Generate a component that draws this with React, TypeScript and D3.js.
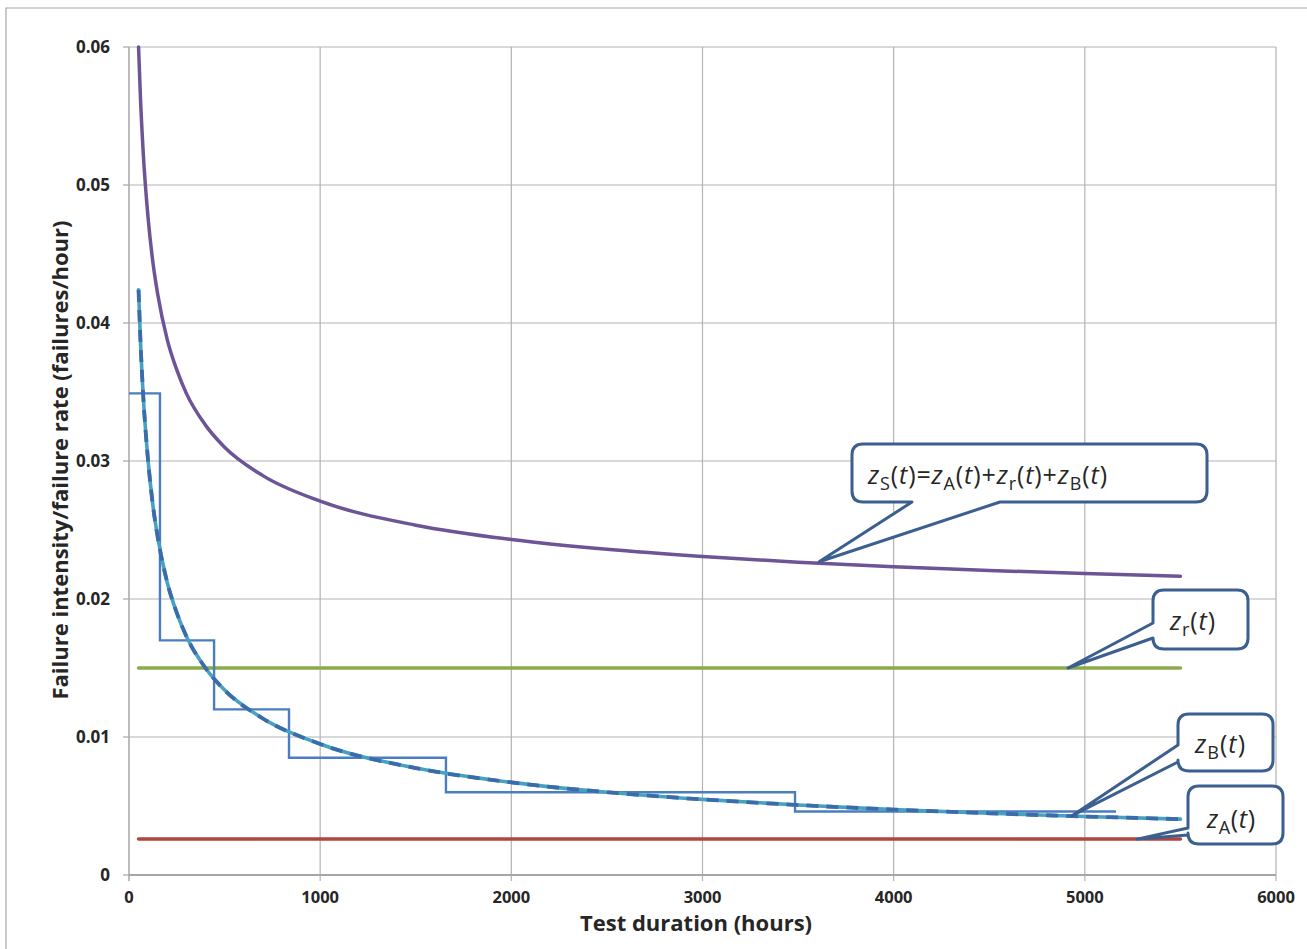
import React from "react";
import * as d3 from "d3";

// Test duration samples (hours) for the smooth curves
const hours = [50, 60, 75, 100, 125, 150, 200, 250, 300, 400, 500, 700, 1000, 1500, 2000, 2500, 3000, 3500, 4000, 4500, 5000, 5500];
// Failure intensity of B-mode failures
const zB = [0.0424, 0.0387, 0.0346, 0.03, 0.0268, 0.0245, 0.0212, 0.019, 0.0173, 0.015, 0.0134, 0.01134, 0.00949, 0.00775, 0.00671, 0.006, 0.00548, 0.00507, 0.00474, 0.00447, 0.00424, 0.00405];
// System failure intensity zS = zA + zr + zB
const zS = [0.06, 0.0563, 0.0522, 0.0476, 0.0444, 0.0421, 0.0388, 0.0366, 0.0349, 0.0326, 0.031, 0.02894, 0.02709, 0.02535, 0.02431, 0.0236, 0.02308, 0.02267, 0.02234, 0.02207, 0.02184, 0.02165];
// Constant rates
const zAValue = 0.0026;
const zrValue = 0.015;
const constStart = 50;
const constEnd = 5500;
// Observed (grouped) failure rate estimate: interval boundaries and levels
const stepTimes = [0, 162, 445, 837, 1658, 3484, 5163];
const stepLevels = [0.0349, 0.017, 0.012, 0.0085, 0.006, 0.0046];

const xTicks = [0, 1000, 2000, 3000, 4000, 5000, 6000];
const yTicks = [0, 0.01, 0.02, 0.03, 0.04, 0.05, 0.06];

const W = 1307;
const H = 949;
const x = d3.scaleLinear().domain([0, 6000]).range([129, 1276]);
const y = d3.scaleLinear().domain([0, 0.06]).range([875, 47]);

const FONT = "'Open Sans', 'Noto Sans', 'DejaVu Sans', sans-serif";

type Side = "bottom" | "left";
function calloutPath(
  x0: number, y0: number, x1: number, y1: number, r: number,
  side: Side, b0: number, b1: number, tx: number, ty: number
) {
  let p = `M${x0 + r},${y0} H${x1 - r} Q${x1},${y0} ${x1},${y0 + r} V${y1 - r} Q${x1},${y1} ${x1 - r},${y1}`;
  if (side === "bottom") p += ` H${b1} L${tx},${ty} L${b0},${y1}`;
  p += ` H${x0 + r} Q${x0},${y1} ${x0},${y1 - r}`;
  if (side === "left") p += ` V${b1} L${tx},${ty} L${x0},${b0}`;
  p += ` V${y0 + r} Q${x0},${y0} ${x0 + r},${y0} Z`;
  return p;
}

function Z({ sub }: { sub: string }) {
  return (
    <>
      <tspan fontStyle="italic">z</tspan>
      <tspan fontSize="18" dy="6">{sub}</tspan>
      <tspan dy="-6">(</tspan>
      <tspan fontStyle="italic">t</tspan>
      <tspan>)</tspan>
    </>
  );
}

export default function App() {
  const curve = d3.line<[number, number]>().x((d) => x(d[0])).y((d) => y(d[1])).curve(d3.curveMonotoneX);
  const zBPath = curve(hours.map((h, i) => [h, zB[i]]))!;
  const zSPath = curve(hours.map((h, i) => [h, zS[i]]))!;

  let stepPath = `M${x(stepTimes[0])},${y(stepLevels[0])}`;
  stepLevels.forEach((lv, i) => {
    stepPath += ` H${x(stepTimes[i + 1])}`;
    if (i + 1 < stepLevels.length) stepPath += ` V${y(stepLevels[i + 1])}`;
  });

  // Callout tips sit on the curves they name
  const tipS = [3610, 0.0227];
  const tipR = [4912, zrValue];
  const tipB = [4933, 0.0043];
  const tipA = [5273, zAValue];

  const callStroke = "#3B5F8F";
  const textCol = "#262626";

  return (
    <svg width={W} height={H} style={{ position: "absolute", left: 0, top: 0, background: "#fff" }} fontFamily={FONT}>
      {/* chart frame */}
      <path d={`M6,${H} V8 H${W}`} fill="none" stroke="#A6A6A6" strokeWidth={1.2} />

      {/* gridlines */}
      {yTicks.filter((t) => t > 0).map((t) => (
        <line key={"gy" + t} x1={x(0)} x2={x(6000)} y1={y(t)} y2={y(t)} stroke="#B3B3B3" strokeWidth={1.2} />
      ))}
      {xTicks.filter((t) => t > 0).map((t) => (
        <line key={"gx" + t} x1={x(t)} x2={x(t)} y1={y(0.06)} y2={y(0) + 6} stroke="#B3B3B3" strokeWidth={1.2} />
      ))}
      {/* axes */}
      <line x1={x(0)} x2={x(0)} y1={y(0.06)} y2={y(0) + 6} stroke="#A6A6A6" strokeWidth={1.5} />
      <line x1={x(0)} x2={x(6000)} y1={y(0)} y2={y(0)} stroke="#A6A6A6" strokeWidth={2} />
      {yTicks.map((t) => (
        <line key={"ty" + t} x1={x(0) - 6} x2={x(0)} y1={y(t)} y2={y(t)} stroke="#A6A6A6" strokeWidth={1.2} />
      ))}

      {/* tick labels */}
      {yTicks.map((t) => (
        <text key={"ly" + t} x={110} y={y(t) + 6} textAnchor="end" fontSize={17} fontWeight="bold" fill={textCol}>
          {t === 0 ? "0" : d3.format(".2f")(t)}
        </text>
      ))}
      {xTicks.map((t) => (
        <text key={"lx" + t} x={x(t)} y={903} textAnchor="middle" fontSize={16.5} fontWeight="bold" fill={textCol}>
          {t}
        </text>
      ))}

      {/* axis titles */}
      <text x={696} y={931} textAnchor="middle" fontSize={22} fontWeight="bold" fill={textCol}>
        Test duration (hours)
      </text>
      <text transform="translate(68,460) rotate(-90)" textAnchor="middle" fontSize={22} fontWeight="bold" fill={textCol}>
        Failure intensity/failure rate (failures/hour)
      </text>

      {/* constant rates */}
      <line x1={x(constStart)} x2={x(constEnd)} y1={y(zrValue)} y2={y(zrValue)} stroke="#8AAA4B" strokeWidth={3.5} strokeLinecap="round" />
      <line x1={x(constStart)} x2={x(constEnd)} y1={y(zAValue)} y2={y(zAValue)} stroke="#B1463C" strokeWidth={3.5} strokeLinecap="round" />

      {/* grouped failure-rate estimate */}
      <path d={stepPath} fill="none" stroke="#4A7EBF" strokeWidth={2.4} />

      {/* zB: teal line under a dashed blue line */}
      <path d={zBPath} fill="none" stroke="#45A3C0" strokeWidth={3.6} strokeLinecap="round" />
      <path d={zBPath} fill="none" stroke="#3C6BAB" strokeWidth={3.8} strokeDasharray="12 8" />

      {/* zS */}
      <path d={zSPath} fill="none" stroke="#6C5497" strokeWidth={3.5} strokeLinecap="round" />

      {/* callouts */}
      <path d={calloutPath(852, 444, 1207, 502, 11, "bottom", 912, 1000, x(tipS[0]), y(tipS[1]))} fill="#fff" stroke={callStroke} strokeWidth={3} strokeLinejoin="round" />
      <text x={868} y={484} fontSize={25} fill={textCol} textLength={239} lengthAdjust="spacing">
        <Z sub="S" />
        <tspan>=</tspan>
        <Z sub="A" />
        <tspan>+</tspan>
        <Z sub="r" />
        <tspan>+</tspan>
        <Z sub="B" />
      </text>

      <path d={calloutPath(1153, 590, 1248, 649, 11, "left", 623, 638, x(tipR[0]), y(tipR[1]))} fill="#fff" stroke={callStroke} strokeWidth={3} strokeLinejoin="round" />
      <text x={1170} y={630} fontSize={25} fill={textCol} textLength={45} lengthAdjust="spacing"><Z sub="r" /></text>

      <path d={calloutPath(1178, 714, 1273, 771, 11, "left", 745, 762, x(tipB[0]), y(tipB[1]))} fill="#fff" stroke={callStroke} strokeWidth={3} strokeLinejoin="round" />
      <text x={1195} y={753} fontSize={25} fill={textCol} textLength={50} lengthAdjust="spacing"><Z sub="B" /></text>

      <path d={calloutPath(1188, 786, 1283, 844, 11, "left", 828, 835, x(tipA[0]), y(tipA[1]))} fill="#fff" stroke={callStroke} strokeWidth={3} strokeLinejoin="round" />
      <text x={1207} y={828} fontSize={25} fill={textCol} textLength={48} lengthAdjust="spacing"><Z sub="A" /></text>
    </svg>
  );
}
